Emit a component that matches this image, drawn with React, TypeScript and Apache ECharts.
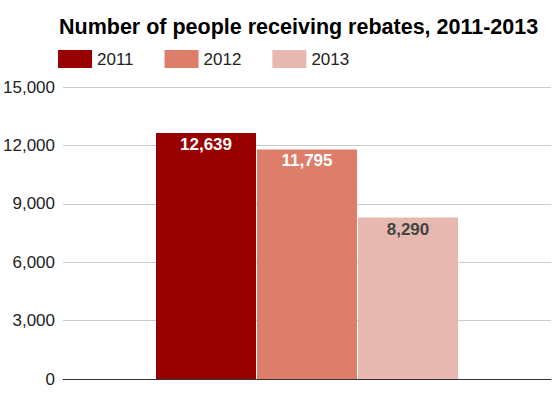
import React, { useEffect, useRef } from "react";
import * as echarts from "echarts";

const categories = ["Rebates"];
const seriesNames = ["2011", "2012", "2013"];
const values2011 = [12639];
const values2012 = [11795];
const values2013 = [8290];
const colors = ["#990000", "#dd7e6b", "#e6b8af"];
const labelColors = ["#ffffff", "#ffffff", "#444444"];

export default function App() {
  const ref = useRef<HTMLDivElement>(null);
  useEffect(() => {
    if (!ref.current) return;
    const chart = echarts.init(ref.current, null, { renderer: "svg" });
    const data = [values2011, values2012, values2013];
    const font = "'Liberation Sans'";
    chart.setOption({
      animation: false,
      backgroundColor: "#ffffff",
      title: {
        text: "Number of people receiving rebates, 2011-2013",
        left: 59,
        top: 16,
        padding: 0,
        textStyle: { fontFamily: font, fontWeight: "bold", fontSize: 21.5, color: "#000000" },
      },
      legend: {
        left: 58,
        top: 50,
        padding: 0,
        itemWidth: 34,
        itemHeight: 18,
        itemGap: 31,
        icon: "rect",
        textStyle: { fontFamily: font, fontSize: 17, color: "#222222" },
        data: seriesNames,
      },
      grid: { left: 62, right: 1, top: 87, bottom: 19, containLabel: false },
      xAxis: {
        type: "category",
        data: categories,
        axisLabel: { show: false },
        axisTick: { show: false },
        axisLine: { lineStyle: { color: "#333333", width: 1 } },
      },
      yAxis: {
        type: "value",
        min: 0,
        max: 15000,
        interval: 3000,
        axisLabel: {
          fontFamily: font,
          fontSize: 17,
          color: "#222222",
          margin: 8,
          formatter: (v: number) => v.toLocaleString("en-US"),
        },
        splitLine: { lineStyle: { color: "#cccccc" } },
        axisLine: { show: false },
        axisTick: { show: false },
      },
      series: seriesNames.map((name, i) => ({
        name,
        type: "bar",
        data: data[i],
        barWidth: 100,
        barGap: "1%",
        itemStyle: { color: colors[i] },
        label: {
          show: true,
          position: "insideTop",
          distance: 3,
          fontFamily: font,
          fontSize: 17,
          fontWeight: "bold",
          color: labelColors[i],
          formatter: (p: any) => Number(p.value).toLocaleString("en-US"),
        },
      })),
    });
    return () => chart.dispose();
  }, []);
  return (
    <div
      ref={ref}
      style={{ position: "fixed", left: 0, top: 0, width: 552, height: 398 }}
    />
  );
}
